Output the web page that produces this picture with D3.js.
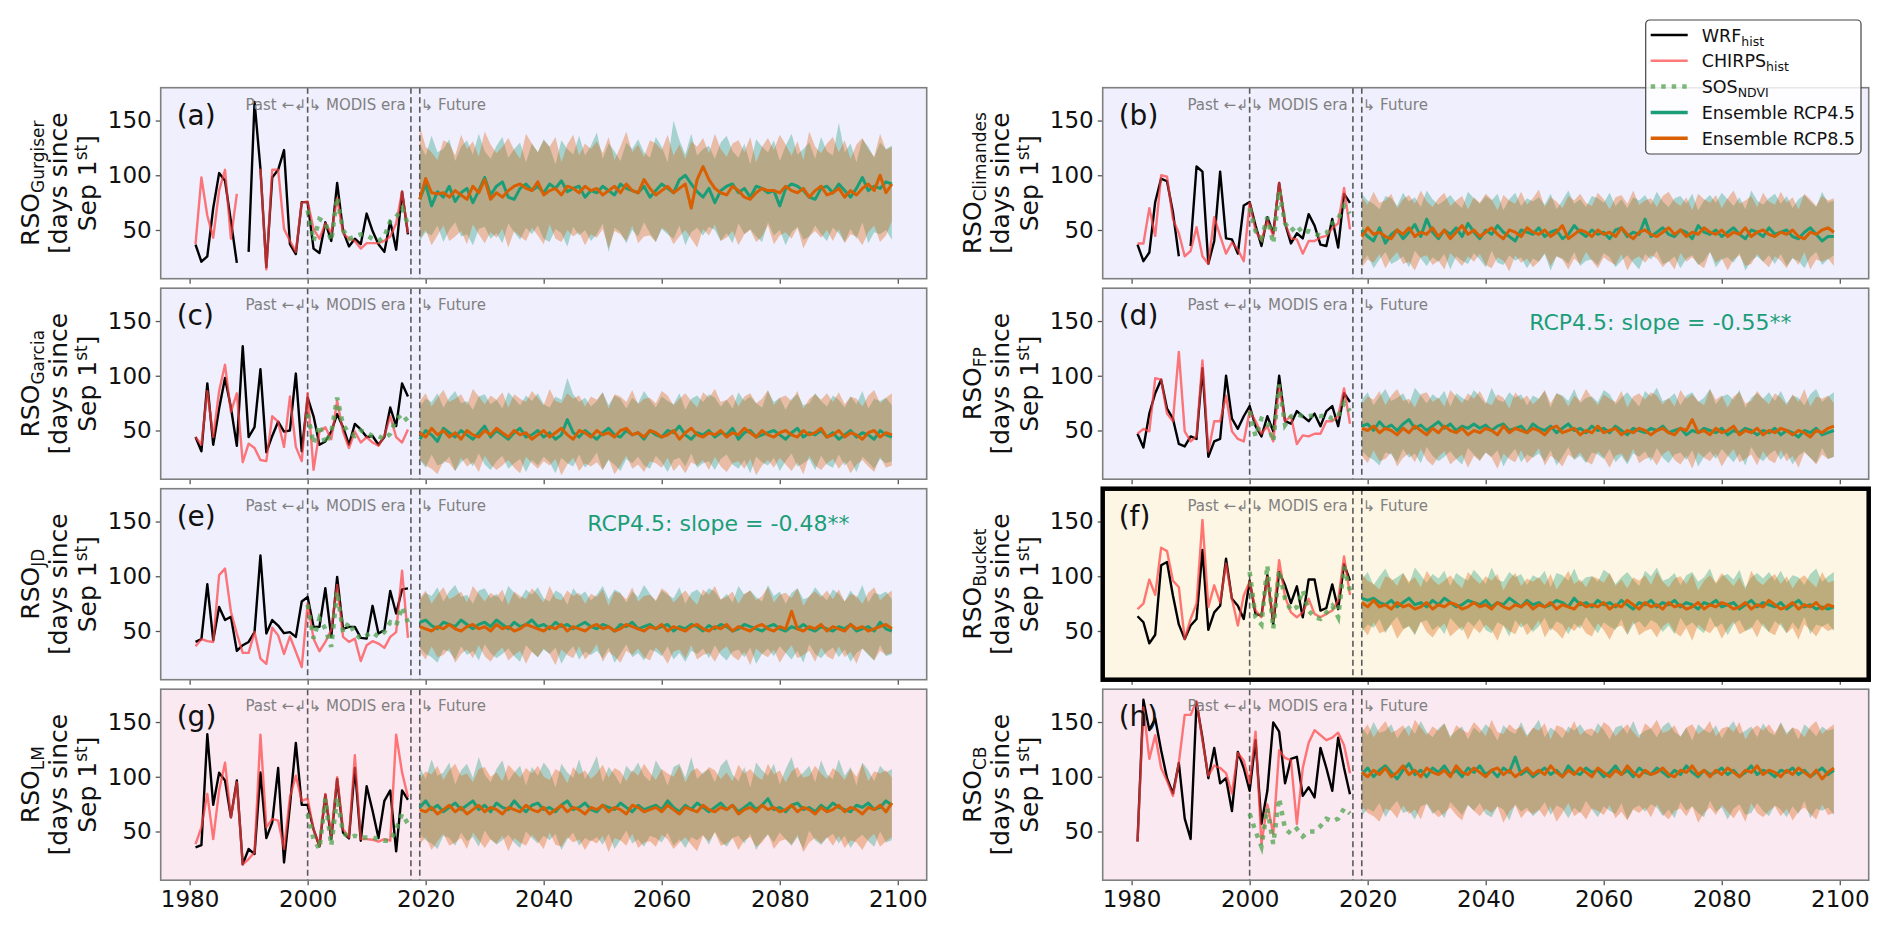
<!DOCTYPE html>
<html>
<head>
<meta charset="utf-8">
<script src="https://cdn.jsdelivr.net/npm/d3@7"></script>
<style>
  body { margin: 0; background: #fff; }
  svg { font-family: "DejaVu Sans", sans-serif; }
</style>
</head>
<body>
<div class="container"></div>
<script>
// ---- axes / categories
const xTicks = [1980, 2000, 2020, 2040, 2060, 2080, 2100];
const yTicks = [50, 100, 150];
const histYears = d3.range(1981, 2018);
const sosYears = d3.range(2000, 2018);
const futureYears = d3.range(2019, 2100);
const eraLines = [2000, 2017.5, 2019];

// ---- (a) Gurgiser
const wrfA = [36.6,21,26,70,102,95,58,20,null,30, 167,106,16,98,105,123,37,28,75.5,75.5, 33,29,57,40,93,49,35,42,37,65, 49,37,30,58,32,85,46];
const chirpsA = [37,98,63,43,86,105,42,83,null,null, null,106,14,105,105,51,40,30,75,76, 51,42,56,47,79,47,42,40,33,38, 38,38,40,44,56,85,47];
const sosA = [68,40,60,57,40,80,50,42,44,46,45,42,40,44,58,62,70,55];
const rcp45A = [78,92,72,85,80,90,76,84,88,75, 86,98,82,90,94,80,78,88,92,86, 90,84,92,88,95,85,88,90,80,86, 84,90,86,82,92,88,86,84,90,80, 86,92,88,84,96,100,92,85,80,88, 75,86,90,92,84,88,80,90,88,84, 86,72,88,92,90,86,80,78,88,90, 84,92,86,80,88,98,86,90,88,94, 92];
const rcp85A = [78,97,84,83,84,80,86,82,78,90, 84,96,78,84,80,86,90,92,88,86, 94,82,86,88,82,90,88,84,90,86, 88,82,86,90,84,92,86,84,96,88, 82,86,90,84,88,92,70,96,108,96, 88,84,82,90,86,80,78,84,88,86, 86,84,90,86,84,88,80,86,90,82, 84,88,80,86,82,88,92,86,100,84, 92];
const rcp45HiA = [129,118,136,121,124,133,113,126,132,119, 138,122,115,127,135,116,124,130,112,129, 121,133,126,110,132,124,119,136,118,127, 139,115,129,122,113,130,124,133,121,116, 135,126,112,150,132,119,138,118,124,127, 115,130,136,122,116,129,110,133,126,121, 132,113,127,138,119,124,130,115,135,122, 118,148,121,129,112,133,126,116,130,124, 127];
const rcp45LoA = [40,48,45,54,39,50,57,44,46,36, 51,53,42,47,38,56,48,41,52,46, 54,42,39,51,47,35,53,45,50,40, 46,56,30,52,48,38,50,44,57,47, 39,51,46,42,54,36,48,52,45,53, 50,40,47,38,56,46,51,44,39,57, 45,50,36,48,53,41,44,54,46,40, 52,47,39,51,42,57,38,48,46,50, 41];
const rcp85HiA = [145,126,121,114,132,129,118,137,124,131, 117,140,128,120,126,134,123,115,138,129, 121,132,126,135,112,128,137,118,129,124, 131,120,135,114,126,140,121,128,117,132, 129,123,137,118,128,115,131,126,134,120, 138,124,117,129,132,121,135,112,126,134, 123,137,128,118,131,114,140,126,120,129, 135,121,132,115,128,134,124,117,138,123, 126];
const rcp85LoA = [42,50,36,45,54,40,44,49,37,55, 46,38,48,43,51,34,49,44,40,52, 45,37,55,42,39,50,44,48,36,46, 43,51,33,49,46,40,54,38,44,45, 39,52,48,37,44,50,42,34,51,45, 55,40,43,49,36,46,50,39,44,54, 37,45,48,42,52,33,44,49,43,50, 40,51,38,46,44,36,48,54,39,45, 58];

// ---- (b) Climandes
const wrfB = [36.7,21.5,29.4,75.6,97,94.5,66.3,26,null,35.4, 108,103.3,19.2,40,103.3,42.3,41.4,28.4,72.4,75.6, 54,35.4,61.7,47,93,56,37.7,47,42.3,64.5, 54,36.7,35.4,60,34,83,74.7];
const chirpsB = [37.7,37.7,70,44.6,100,98.7,59.9,47,26,30.8, 52.5,26,19,61.7,44.6,28.4,38.6,32,21.5,74.7, 49.2,40,58.5,44.6,93,56,42.3,41.4,28.4,40, 40,43.2,44.6,51.5,56,88.5,50.6];
const sosB = [70,49,42.3,61.7,37.7,86,56,49,54,47,49,47,44.6,47,56,60,72,65];
const rcp45B = [50,44,40,52,38,46,50,42,48,55, 44,60,48,42,50,46,52,44,56,48, 42,50,46,54,48,44,40,50,48,46, 52,44,48,50,42,46,54,48,44,50, 46,48,42,50,52,44,48,46,60,44, 48,52,46,44,50,48,42,54,48,46, 50,44,48,52,46,42,50,48,44,52, 46,48,50,44,42,48,52,46,40,44, 44];
const rcp85B = [44,52,46,48,44,42,50,46,52,44, 48,46,52,44,50,42,48,54,46,50, 44,48,52,46,42,50,48,44,52,48, 46,50,44,48,54,42,46,50,48,44, 50,46,48,44,52,46,42,48,50,46, 44,48,52,46,50,44,48,46,52,48, 46,50,44,48,46,52,44,48,50,46, 44,48,46,50,44,42,48,46,50,52, 48];
const rcp45HiB = [83,77,74,69,81,79,72,84,76,80, 71,86,78,73,77,82,75,70,85,79, 74,81,77,83,68,78,84,72,79,76, 80,73,83,69,77,86,74,78,71,81, 79,75,84,72,78,70,80,77,82,73, 85,76,71,79,81,74,83,68,77,82, 75,84,78,72,80,69,86,77,73,79, 83,74,81,70,78,82,76,71,85,75, 77];
const rcp45LoB = [20,27,15,23,30,19,22,26,16,31, 24,17,25,21,28,14,26,22,19,29, 23,16,31,20,18,27,22,25,15,24, 21,28,13,26,24,19,30,17,22,23, 18,29,25,16,22,27,20,14,28,23, 31,19,21,26,15,24,27,18,22,30, 16,23,25,20,29,13,22,26,21,27, 19,28,17,24,22,15,25,30,18,23, 27];
const rcp85HiB = [80,73,85,75,77,83,70,78,82,74, 86,76,71,79,84,72,77,81,69,80, 75,83,78,68,82,77,74,85,73,79, 87,71,80,76,70,81,77,83,75,72, 84,78,69,80,82,74,86,73,77,79, 71,81,85,76,72,80,68,83,78,75, 82,70,79,86,74,77,81,71,84,76, 73,85,75,80,69,83,78,72,81,77, 79];
const rcp85LoB = [16,23,20,28,15,24,30,19,21,13, 25,27,18,22,14,29,23,17,26,21, 28,18,15,25,22,12,27,20,24,16, 21,29,17,26,23,14,24,19,30,22, 15,25,21,18,28,13,23,26,20,27, 24,16,22,14,29,21,25,19,15,30, 20,24,13,23,27,17,19,28,21,16, 26,22,15,25,18,30,14,23,21,24, 17];

// ---- (c) Garcia
const wrfC = [44,31,93,37,70,98,71,36,127,44, 53,106,30,45,58,49,50,102,31,80, 63,37,40,49,65,53,37,56,51,44, 45,37,44,71,54,93,81];
const chirpsC = [44,37,86,44,86,110,67,84,21,38, 34,23,22,63,58,35,81,35,22,84, 14,49,53,42,77,49,34,49,39,44, 39,36,45,63,44,39,51];
const sosC = [65,38,55,38,48,80,55,48,45,50,48,45,45,42,47,60,65,58];
const rcp45C = [42,50,46,40,52,48,44,50,46,42, 48,54,44,50,46,42,48,52,44,46, 50,44,48,42,46,60,48,44,50,46, 42,48,52,46,44,50,46,48,42,50, 46,44,50,48,54,46,42,48,46,50, 44,48,46,52,42,48,50,44,46,48, 50,46,42,48,52,44,48,46,50,44, 48,42,46,50,44,48,46,42,50,46, 44];
const rcp85C = [48,44,52,46,50,44,48,42,50,46, 44,50,46,52,48,44,50,46,48,42, 46,50,44,48,52,46,42,50,48,44, 50,46,48,44,50,52,46,48,44,50, 48,44,46,50,42,48,52,46,44,48, 46,50,44,48,46,52,48,44,50,46, 44,48,50,46,44,50,46,48,52,44, 46,50,44,48,46,42,48,50,44,48, 46];
const rcp45HiC = [72,79,76,84,71,80,86,75,77,69, 81,83,74,78,70,85,79,73,82,77, 84,74,71,81,78,98,83,76,80,72, 77,85,73,82,79,70,80,75,86,78, 71,81,77,74,84,69,79,82,76,83, 80,72,78,70,85,77,81,75,71,86, 76,80,69,79,83,73,75,84,77,72, 82,78,71,81,74,86,70,79,77,80, 73];
const rcp45LoC = [23,16,28,18,20,26,13,21,25,17, 29,19,14,22,27,15,20,24,12,23, 18,26,21,11,25,20,17,28,16,22, 30,14,23,19,13,24,20,26,18,15, 27,21,12,23,25,17,29,16,20,22, 14,24,28,19,15,23,11,26,21,18, 25,13,22,29,17,20,24,14,27,19, 16,28,18,23,12,26,21,15,24,20, 22];
const rcp85HiC = [77,84,72,80,87,76,79,83,73,88, 81,74,82,78,85,71,83,79,76,86, 80,73,88,77,75,84,79,82,72,81, 78,85,70,83,81,76,87,74,79,80, 75,86,82,73,79,84,77,71,85,80, 88,76,78,83,72,81,84,75,79,87, 73,80,82,77,86,70,79,83,78,84, 76,85,74,81,79,72,82,87,75,80, 84];
const rcp85LoC = [24,18,15,10,22,20,13,25,17,21, 12,27,19,14,18,23,16,11,26,20, 15,22,18,24,9,19,25,13,20,17, 21,14,24,10,18,27,15,19,12,22, 20,16,25,13,19,11,21,18,23,14, 26,17,12,20,22,15,24,9,18,23, 16,25,19,13,21,10,27,18,14,20, 24,15,22,11,19,23,17,12,26,16, 18];

// ---- (d) FP
const wrfD = [47,34.4,65.4,84,96.4,70,60.8,37.7,35.4,44.6, 42.3,107,26,40,42.3,100,60.8,51.5,63,72.3, 53.9,44.6,63,49.2,100,58.5,56.2,67.7,63,58.5, 65.4,53.9,67.7,72.3,53.9,84,76];
const chirpsD = [47,51.5,49.2,97.8,96.4,65.4,58.5,121.8,49.2,40, 44.6,114,30.7,58.5,58.5,81.6,49.2,42.3,40,67.7, 58.5,47,53.9,40,90.8,58.5,63,37.7,45.5,44.6, 47,47,58.5,58.5,63,88.5,56.2];
const sosD = [67.7,44.6,60.8,58.5,40,92,55,63,65,63,63,64,63,64,60.8,63,75,67.7];
const rcp45D = [54,56,50,58,52,55,50,56,60,52, 55,50,54,58,52,56,50,54,52,56, 52,55,50,54,56,50,52,54,48,56, 52,50,54,48,52,56,50,52,48,54, 50,52,48,54,50,46,52,50,48,52, 50,54,48,50,52,46,50,48,52,50, 48,52,46,50,48,52,50,46,50,48, 52,46,50,48,44,50,48,52,46,48, 50];
const rcp85D = [52,50,54,48,52,50,46,52,48,54, 50,46,52,48,54,50,48,52,46,50, 48,52,50,46,54,48,52,50,48,52, 50,46,52,54,48,50,52,46,50,48, 54,48,50,52,46,50,48,52,50,46, 50,52,48,46,52,50,60,48,50,46, 52,48,50,54,46,50,48,52,46,50, 48,52,50,46,50,48,44,50,48,52, 54];
const rcp45HiD = [78,85,73,81,88,77,80,84,74,89, 82,75,83,79,86,72,84,80,77,87, 81,74,89,78,76,85,80,83,73,82, 79,86,71,84,82,77,88,75,80,81, 76,87,83,74,80,85,78,72,86,81, 89,77,79,84,73,82,85,76,80,88, 74,81,83,78,87,71,80,84,79,85, 77,86,75,82,80,73,83,88,76,81, 85];
const rcp45LoD = [32,26,23,18,30,28,21,33,25,29, 20,35,27,22,26,31,24,19,34,28, 23,30,26,32,17,27,33,21,28,25, 29,22,32,18,26,35,23,27,20,30, 28,24,33,21,27,19,29,26,31,22, 34,25,20,28,30,23,32,17,26,31, 24,33,27,21,29,18,35,26,22,28, 32,23,30,19,27,31,25,20,34,24, 26];
const rcp85HiD = [74,81,78,86,73,82,88,77,79,71, 83,85,76,80,72,87,81,75,84,79, 86,76,73,83,80,70,85,78,82,74, 79,87,75,84,81,72,82,77,88,80, 73,83,79,76,86,71,81,84,78,85, 82,74,80,72,87,79,83,77,73,88, 78,82,71,81,85,75,77,86,79,74, 84,80,73,83,76,88,72,81,79,82, 75];
const rcp85LoD = [27,20,32,22,24,30,17,25,29,21, 33,23,18,26,31,19,24,28,16,27, 22,30,25,15,29,24,21,32,20,26, 34,18,27,23,17,28,24,30,22,19, 31,25,16,27,29,21,33,20,24,26, 18,28,32,23,19,27,15,30,25,22, 29,17,26,33,21,24,28,18,31,23, 20,32,22,27,16,30,25,19,28,24, 26];

// ---- (e) JD
const wrfE = [40,42.5,92.7,41.6,72,60,63,31.8,37,40, 49,119,47.7,60,55,48,49,44.6,77,81, 53.8,53.8,89,44.6,99.4,52,53.8,53.8,43.7,43, 73,47.7,50.8,86.5,66,88,89];
const chirpsE = [36,42.5,40.7,40,101,107,67.6,47.7,30,30, 49,24.8,20,53,46,29,45,31,17,75, 43,31.5,40,50.8,92,44.6,40,43,22.6,37, 40.7,38.5,34.6,44.6,49,105,43.7];
const sosE = [74,43,61.5,52,35.5,86,49,58,47.7,43,46,49,44.6,49,58,55,72,58];
const rcp45E = [58,60,55,52,58,56,54,60,56,52, 56,58,54,60,56,52,58,54,56,60, 54,56,52,58,54,56,52,55,58,54, 52,56,54,50,56,54,58,52,54,56, 52,54,56,50,54,52,56,54,50,55, 52,56,54,50,52,56,54,52,50,54, 56,52,50,54,52,56,52,50,54,52, 50,54,52,56,50,52,54,50,58,52, 50];
const rcp85E = [54,52,50,54,52,56,52,50,54,56, 52,54,50,56,52,54,50,52,56,54, 52,50,54,52,56,50,54,52,50,54, 56,52,54,50,52,56,54,52,50,54, 52,56,50,54,52,50,54,56,52,50, 54,52,56,50,54,52,50,54,56,52, 50,54,52,68,52,50,54,52,56,50, 54,52,50,56,52,54,50,52,54,56, 52];
const rcp45HiE = [78,85,82,90,77,86,92,81,83,75, 87,89,80,84,76,91,85,79,88,83, 90,80,77,87,84,74,89,82,86,78, 83,91,79,88,85,76,86,81,92,84, 77,87,83,80,90,75,85,88,82,89, 86,78,84,76,91,83,87,81,77,92, 82,86,75,85,89,79,81,90,83,78, 88,84,77,87,80,92,76,85,83,86, 79];
const rcp45LoE = [35,29,26,21,33,31,24,36,28,32, 23,38,30,25,29,34,27,22,37,31, 26,33,29,35,20,30,36,24,31,28, 32,25,35,21,29,38,26,30,23,33, 31,27,36,24,30,22,32,29,34,25, 37,28,23,31,33,26,35,20,29,34, 27,36,30,24,32,21,38,29,25,31, 35,26,33,22,30,34,28,23,37,27, 29];
const rcp85HiE = [80,87,75,83,90,79,82,86,76,91, 84,77,85,81,88,74,86,82,79,89, 83,76,91,80,78,87,82,85,75,84, 81,88,73,86,84,79,90,77,82,83, 78,89,85,76,82,87,80,74,88,83, 91,79,81,86,75,84,87,78,82,90, 76,83,85,80,89,73,82,86,81,87, 79,88,77,84,82,75,85,90,78,83, 87];
const rcp85LoE = [31,24,36,26,28,34,21,29,33,25, 37,27,22,30,35,23,28,32,20,31, 26,34,29,19,33,28,25,36,24,30, 38,22,31,27,21,32,28,34,26,23, 35,29,20,31,33,25,37,24,28,30, 22,32,36,27,23,31,19,34,29,26, 33,21,30,37,25,28,32,22,35,27, 24,36,26,31,20,34,29,23,32,28, 30];

// ---- (f) Bucket
const wrfF = [63.5,58,38.7,46.6,110,113,82.5,56,42.6,55, 61,124,51,67,73,116,79.4,73,61,96, 65.6,64,101,56.4,104,91.7,75.5,90.8,62.6,97, 97,68.7,71,92.6,70,111,96];
const chirpsF = [70,75,97,83,126,123,96,90,42.6,61, 75,151.5,72,91.7,76,111.6,79.4,55,82.5,95, 68.7,62.6,99.4,59.5,114.7,81,67,62.6,67,79.4, 65.6,62.6,65.6,68.7,78,118,83];
const sosF = [104,62.6,56,110,52,105.5,79.4,68.7,71.8,87,68.7,62.6,61,67,73,62.6,108.6,87];
const rcp45F = [80,78,80,76,74,78,72,76,80,74, 76,72,78,74,80,76,72,74,78,76, 74,78,72,76,74,80,76,72,78,74, 76,72,74,78,76,72,80,74,76,72, 78,74,76,72,78,74,70,76,74,78, 72,76,74,78,72,76,74,70,76,74, 78,72,74,76,70,74,78,72,76,74, 72,76,70,74,78,72,74,70,72,70, 72];
const rcp85F = [76,72,78,72,74,70,76,72,74,70, 72,76,70,74,72,76,74,70,72,76, 72,74,70,76,72,70,74,72,76,70, 74,72,76,70,74,72,70,76,72,74, 72,76,70,74,72,78,74,70,76,72, 74,70,76,72,74,70,72,76,70,74, 72,76,74,70,72,76,70,74,72,78, 74,70,72,76,70,74,72,76,70,74, 72];
const rcp45HiF = [97,104,92,100,107,96,99,103,93,108, 101,94,102,98,105,91,103,99,96,106, 100,93,108,97,95,104,99,102,92,101, 98,105,90,103,101,96,107,94,99,100, 95,106,102,93,99,104,97,91,105,100, 108,96,98,103,92,101,104,95,99,107, 93,100,102,97,106,90,99,103,98,104, 96,105,94,101,99,92,102,107,95,100, 104];
const rcp45LoF = [49,56,53,61,48,57,63,52,54,46, 58,60,51,55,47,62,56,50,59,54, 61,51,48,58,55,45,60,53,57,49, 54,62,50,59,56,47,57,52,63,55, 48,58,54,51,61,46,56,59,53,60, 57,49,55,47,62,54,58,52,48,63, 53,57,46,56,60,50,52,61,54,49, 59,55,48,58,51,63,47,56,54,57, 50];
const rcp85HiF = [102,96,93,88,100,98,91,103,95,99, 90,105,97,92,96,101,94,89,104,98, 93,100,96,102,87,97,103,91,98,95, 99,92,102,88,96,105,93,97,90,100, 98,94,103,91,97,89,99,96,101,92, 104,95,90,98,100,93,102,87,96,101, 94,103,97,91,99,88,105,96,92,98, 102,93,100,89,97,101,95,90,104,94, 96];
const rcp85LoF = [53,46,58,48,50,56,43,51,55,47, 59,49,44,52,57,45,50,54,42,53, 48,56,51,41,55,50,47,58,46,52, 60,44,53,49,43,54,50,56,48,45, 57,51,42,53,55,47,59,46,50,52, 44,54,58,49,45,53,41,56,51,48, 55,43,52,59,47,50,54,44,57,49, 46,58,48,53,42,56,51,45,54,50, 52];

// ---- (g) LM
const wrfG = [35.5,37.6,138.8,74.3,103.7,96.6,63,96.6,20,34, 29.4,104,44,58.4,108,21.7,73.7,131,74.3,74.3, 52,36.4,83.5,43,98,49,43.7,108,41.6,91.4, 69,44,78,87.5,31.8,87.5,79];
const chirpsG = [38.5,53.8,84.4,43,87.5,112.8,63,95,20,24.8, 31,138.5,53.8,61.5,60,34,81.3,101,78,80, 52,37,84.4,46,99.7,52,44.6,119.6,43,43, 42.5,40.7,43,41.6,138.5,104,81.3];
const sosG = [66,43,34,80,37,81,49,44.6,46,44.6,44.6,44.6,43,41.6,41.6,52,66,57];
const rcp45G = [72,78,70,74,68,72,76,70,74,78, 70,74,68,76,72,70,78,72,68,74, 76,70,72,68,74,78,70,72,76,70, 68,74,72,70,76,72,68,74,70,72, 74,70,78,72,68,74,70,76,72,68, 72,76,70,74,68,72,76,70,74,80, 70,72,68,74,76,70,72,68,74,70, 76,72,70,68,74,72,76,70,72,78, 74];
const rcp85G = [70,68,72,66,70,74,68,72,66,70, 74,68,72,70,66,72,70,68,74,70, 68,72,66,70,74,68,72,70,66,72, 70,74,68,72,70,66,74,72,68,70, 72,68,74,70,66,72,70,68,74,70, 68,72,70,74,66,70,72,68,74,70, 72,68,70,74,68,72,70,66,72,68, 70,74,68,72,70,66,72,70,74,68, 76];
const rcp45HiG = [109,98,116,101,104,113,93,106,112,99, 118,102,95,107,115,96,104,110,92,109, 101,113,106,90,112,104,99,116,98,107, 119,95,109,102,93,110,104,113,101,96, 115,106,92,109,112,99,118,98,104,107, 95,110,116,102,96,109,90,113,106,101, 112,93,107,118,99,104,110,95,115,102, 98,116,101,109,92,113,106,96,110,104, 107];
const rcp45LoG = [48,42,39,34,46,44,37,49,41,45, 36,51,43,38,42,47,40,35,50,44, 39,46,42,48,33,43,49,37,44,41, 45,38,48,34,42,51,39,43,36,46, 44,40,49,37,43,35,45,42,47,38, 50,41,36,44,46,39,48,33,42,47, 40,49,43,37,45,34,51,42,38,44, 48,39,46,35,43,47,41,36,50,40, 42];
const rcp85HiG = [98,105,102,110,97,106,112,101,103,95, 107,109,100,104,96,111,105,99,108,103, 110,100,97,107,104,94,109,102,106,98, 103,111,99,108,105,96,106,101,112,104, 97,107,103,100,110,95,105,108,102,109, 106,98,104,96,111,103,107,101,97,112, 102,106,95,105,109,99,101,110,103,98, 108,104,97,107,100,112,96,105,103,106, 99];
const rcp85LoG = [38,45,33,41,48,37,40,44,34,49, 42,35,43,39,46,32,44,40,37,47, 41,34,49,38,36,45,40,43,33,42, 39,46,31,44,42,37,48,35,40,41, 36,47,43,34,40,45,38,32,46,41, 49,37,39,44,33,42,45,36,40,48, 34,41,43,38,47,31,40,44,39,45, 37,46,35,42,40,33,43,48,36,41, 45];

// ---- (h) CB
const wrfH = [40.9,170.4,142.6,153.3,124.2,98.7,84.8,112.6,61.7,43.2, 168,135.7,98.7,126.4,94,98.7,68.7,122.7,108,87.2, 133.4,57,87.2,149.6,141.2,94,116.3,118.2,82.5,90.4, 81.1,126.4,108,87.2,135.7,108,84];
const chirpsH = [40.9,163.4,116.3,138,108,96.4,82.5,112.6,156.5,156.5, 169,133.4,101,110.3,108,103.3,84.8,121.8,114.9,94, 141.2,38.6,74.7,47.8,124.2,117.2,114.9,57,108,131, 142.6,138,133.4,135.7,140.3,128.8,103.3];
const sosH = [66.3,50,36.3,71,38.6,80.2,52.5,47.8,52.5,45.5,50,50,54.8,61.7,59.4,61.7,71,66.3];
const rcp45H = [102,108,100,106,110,104,98,106,112,102, 106,100,108,104,110,102,106,100,108,104, 110,102,106,100,108,104,118,102,106,100, 104,108,102,106,100,110,104,102,108,104, 106,100,104,110,102,106,100,108,104,102, 108,104,100,106,102,110,104,100,106,102, 104,108,102,106,100,104,110,102,106,104, 100,106,104,108,102,106,100,104,108,102, 106];
const rcp85H = [104,100,106,102,108,100,104,110,102,106, 100,108,104,102,106,100,110,104,102,108, 104,100,106,108,102,106,100,104,108,102, 106,102,110,104,100,106,102,108,104,100, 108,104,100,106,102,110,104,100,106,102, 104,108,102,100,106,104,110,102,106,100, 106,102,108,104,100,106,104,110,102,106, 104,100,106,102,108,104,100,106,98,104, 108];
const rcp45HiH = [145,138,150,140,142,148,135,143,147,139, 151,141,136,144,149,137,142,146,134,145, 140,148,143,133,147,142,139,150,138,144, 152,136,145,141,135,146,142,148,140,137, 149,143,134,145,147,139,151,138,142,144, 136,146,150,141,137,145,133,148,143,140, 147,135,144,151,139,142,146,136,149,141, 138,150,140,145,134,148,143,137,146,142, 144];
const rcp45LoH = [64,71,68,76,63,72,78,67,69,61, 73,75,66,70,62,77,71,65,74,69, 76,66,63,73,70,60,75,68,72,64, 69,77,65,74,71,62,72,67,78,70, 63,73,69,66,76,61,71,74,68,75, 72,64,70,62,77,69,73,67,63,78, 68,72,61,71,75,65,67,76,69,64, 74,70,63,73,66,78,62,71,69,72, 65];
const rcp85HiH = [141,148,136,144,151,140,143,147,137,152, 145,138,146,142,149,135,147,143,140,150, 144,137,152,141,139,148,143,146,136,145, 142,149,134,147,145,140,151,138,143,144, 139,150,146,137,143,148,141,135,149,144, 152,140,142,147,136,145,148,139,143,151, 137,144,146,141,150,134,143,147,142,148, 140,149,138,145,143,136,146,151,139,144, 148];
const rcp85LoH = [73,67,64,59,71,69,62,74,66,70, 61,76,68,63,67,72,65,60,75,69, 64,71,67,73,58,68,74,62,69,66, 70,63,73,59,67,76,64,68,61,71, 69,65,74,62,68,60,70,67,72,63, 75,66,61,69,71,64,73,58,67,72, 65,74,68,62,70,59,76,67,63,69, 73,64,71,60,68,72,66,61,75,65, 67];

// ---- panel table (built from the arrays above)
const panels = [
  {tag: "(a)", name: "Gurgiser",  wrf: wrfA, chirps: chirpsA, sos: sosA, m45: rcp45A, m85: rcp85A, lo45: rcp45LoA, hi45: rcp45HiA, lo85: rcp85LoA, hi85: rcp85HiA, bg: "#f0effd"},
  {tag: "(b)", name: "Climandes", wrf: wrfB, chirps: chirpsB, sos: sosB, m45: rcp45B, m85: rcp85B, lo45: rcp45LoB, hi45: rcp45HiB, lo85: rcp85LoB, hi85: rcp85HiB, bg: "#f0effd"},
  {tag: "(c)", name: "Garcia",    wrf: wrfC, chirps: chirpsC, sos: sosC, m45: rcp45C, m85: rcp85C, lo45: rcp45LoC, hi45: rcp45HiC, lo85: rcp85LoC, hi85: rcp85HiC, bg: "#f0effd"},
  {tag: "(d)", name: "FP",        wrf: wrfD, chirps: chirpsD, sos: sosD, m45: rcp45D, m85: rcp85D, lo45: rcp45LoD, hi45: rcp45HiD, lo85: rcp85LoD, hi85: rcp85HiD, bg: "#f0effd", slope: "RCP4.5: slope = -0.55**"},
  {tag: "(e)", name: "JD",        wrf: wrfE, chirps: chirpsE, sos: sosE, m45: rcp45E, m85: rcp85E, lo45: rcp45LoE, hi45: rcp45HiE, lo85: rcp85LoE, hi85: rcp85HiE, bg: "#f0effd", slope: "RCP4.5: slope = -0.48**"},
  {tag: "(f)", name: "Bucket",    wrf: wrfF, chirps: chirpsF, sos: sosF, m45: rcp45F, m85: rcp85F, lo45: rcp45LoF, hi45: rcp45HiF, lo85: rcp85LoF, hi85: rcp85HiF, bg: "#fdf6e4", bold: true},
  {tag: "(g)", name: "LM",        wrf: wrfG, chirps: chirpsG, sos: sosG, m45: rcp45G, m85: rcp85G, lo45: rcp45LoG, hi45: rcp45HiG, lo85: rcp85LoG, hi85: rcp85HiG, bg: "#fbe9f2"},
  {tag: "(h)", name: "CB",        wrf: wrfH, chirps: chirpsH, sos: sosH, m45: rcp45H, m85: rcp85H, lo45: rcp45LoH, hi45: rcp45HiH, lo85: rcp85LoH, hi85: rcp85HiH, bg: "#fbe9f2"}
];

const col45 = "#1b9e77", col85 = "#d95f02";
const colWrf = "#000", colChirps = "#ff4040", colSos = "#4fa34f";

const width = 1892, height = 926;
const colX = [160.7, 1102.7];
const pw = 766, ph = 191;
const rowY = r => 87.7 + r * 200.5;

const svg = d3.select(".container")
              .append("svg")
              .attr("width", width)
              .attr("height", height);

const xScale = d3.scaleLinear().domain([1975.1, 2104.9]).range([0, pw]);
const yScale = d3.scaleLinear().domain([5.5, 180]).range([ph, 0]);

function seriesLine(years) {
    return d3.line()
             .defined(d => d != null)
             .x((d, i) => xScale(years[i]))
             .y(d => yScale(d));
}
function band(lo, hi) {
    return d3.area()
             .x(d => xScale(d))
             .y0((d, i) => yScale(lo[i]))
             .y1((d, i) => yScale(hi[i]));
}

panels.forEach((p, k) => {
    const col = k % 2, row = Math.floor(k / 2);
    const x0 = colX[col], y0 = rowY(row);
    const g = svg.append("g").attr("transform", `translate(${x0},${y0})`);

    g.append("rect")
     .attr("width", pw).attr("height", ph)
     .attr("fill", p.bg);

    // ensemble spread
    g.append("path").datum(futureYears)
     .attr("d", band(p.lo45, p.hi45))
     .attr("fill", col45).attr("fill-opacity", 0.35);
    g.append("path").datum(futureYears)
     .attr("d", band(p.lo85, p.hi85))
     .attr("fill", col85).attr("fill-opacity", 0.35);

    // era lines
    eraLines.forEach(yr => {
        g.append("line")
         .attr("x1", xScale(yr)).attr("x2", xScale(yr))
         .attr("y1", 0).attr("y2", ph)
         .attr("stroke", "#5a5a5a").attr("stroke-width", 1.6)
         .attr("stroke-dasharray", "6,3.5");
    });

    // historical series
    g.append("path").datum(p.wrf)
     .attr("d", seriesLine(histYears))
     .attr("fill", "none").attr("stroke", colWrf)
     .attr("stroke-width", 2.4).attr("stroke-linejoin", "round");
    g.append("path").datum(p.chirps)
     .attr("d", seriesLine(histYears))
     .attr("fill", "none").attr("stroke", colChirps)
     .attr("stroke-opacity", 0.7)
     .attr("stroke-width", 2.4).attr("stroke-linejoin", "round");
    g.append("path").datum(p.sos)
     .attr("d", seriesLine(sosYears))
     .attr("fill", "none").attr("stroke", colSos)
     .attr("stroke-opacity", 0.75)
     .attr("stroke-width", 4.5)
     .attr("stroke-dasharray", "4.5,6");

    // ensemble means
    g.append("path").datum(p.m45)
     .attr("d", seriesLine(futureYears))
     .attr("fill", "none").attr("stroke", col45)
     .attr("stroke-width", 3).attr("stroke-linejoin", "round");
    g.append("path").datum(p.m85)
     .attr("d", seriesLine(futureYears))
     .attr("fill", "none").attr("stroke", col85)
     .attr("stroke-width", 3).attr("stroke-linejoin", "round");

    // annotations
    const ann = g.append("g").attr("font-size", 15).attr("fill", "#808080");
    ann.append("text").attr("x", xScale(2000) - 1).attr("y", 22)
       .attr("text-anchor", "end").text("Past \u2190\u21b2");
    ann.append("text").attr("x", xScale(2000) + 1).attr("y", 22)
       .text("\u21b3 MODIS era");
    ann.append("text").attr("x", xScale(2019) + 1).attr("y", 22)
       .text("\u21b3 Future");

    g.append("text").attr("x", 16).attr("y", 37)
     .attr("font-size", 28).attr("fill", "#111").text(p.tag);

    if (p.slope) {
        g.append("text").attr("x", pw * 0.728).attr("y", 42)
         .attr("text-anchor", "middle").attr("font-size", 22)
         .attr("fill", col45).text(p.slope);
    }

    // axes
    const yAxis = d3.axisLeft(yScale).tickValues(yTicks).tickSize(5).tickPadding(4);
    const xAxis = d3.axisBottom(xScale).tickValues(xTicks).tickSize(5).tickPadding(5)
                    .tickFormat(row === 3 ? d3.format("d") : () => "");
    const gy = g.append("g").call(yAxis);
    const gx = g.append("g").attr("transform", `translate(0,${ph})`).call(xAxis);
    [gx, gy].forEach(a => {
        a.select(".domain").remove();
        a.selectAll(".tick line").attr("stroke", "#555").attr("stroke-width", 1.3);
        a.selectAll(".tick text").attr("font-size", 23).attr("fill", "#111")
         .attr("font-family", "DejaVu Sans");
    });

    // frame
    g.append("rect")
     .attr("width", pw).attr("height", ph)
     .attr("fill", "none")
     .attr("stroke", p.bold ? "#000" : "#7f7f7f")
     .attr("stroke-width", p.bold ? 4.5 : 1.6);

    // y label, three rotated lines
    const cy = y0 + ph / 2;
    const lab = (dx) => svg.append("text")
        .attr("transform", `translate(${x0 + dx},${cy}) rotate(-90)`)
        .attr("text-anchor", "middle").attr("dy", "0.35em")
        .attr("font-size", 25).attr("fill", "#111");
    const l1 = lab(-130.7);
    l1.append("tspan").text("RSO");
    l1.append("tspan").attr("font-size", 17).attr("dy", 5).text(p.name);
    lab(-102.7).text("[days since");
    const l3 = lab(-73.7);
    l3.append("tspan").text("Sep 1");
    l3.append("tspan").attr("font-size", 17).attr("dy", -9).text("st");
    l3.append("tspan").attr("dy", 9).text("]");
});

// ---- legend
const legendItems = [
    {main: "WRF", sub: "hist", color: colWrf, w: 2.4, op: 1},
    {main: "CHIRPS", sub: "hist", color: colChirps, w: 2.4, op: 0.7},
    {main: "SOS", sub: "NDVI", color: colSos, w: 4.5, op: 0.75, dash: "4.5,6"},
    {main: "Ensemble RCP4.5", sub: "", color: col45, w: 3.5, op: 1},
    {main: "Ensemble RCP8.5", sub: "", color: col85, w: 3.5, op: 1}
];
const lg = svg.append("g").attr("transform", "translate(1645.7,20)");
lg.append("rect").attr("width", 215.3).attr("height", 134).attr("rx", 4)
  .attr("fill", "#fff").attr("fill-opacity", 0.82)
  .attr("stroke", "#444").attr("stroke-width", 1.2);
legendItems.forEach((d, i) => {
    const cy = 15 + i * 25.8;
    lg.append("line").attr("x1", 5).attr("x2", 42).attr("y1", cy).attr("y2", cy)
      .attr("stroke", d.color).attr("stroke-width", d.w).attr("stroke-opacity", d.op)
      .attr("stroke-dasharray", d.dash || null);
    const t = lg.append("text").attr("x", 56).attr("y", cy + 6.5)
                .attr("font-size", 17.5).attr("fill", "#111");
    t.append("tspan").text(d.main);
    if (d.sub) t.append("tspan").attr("font-size", 12.5).attr("dy", 4).text(d.sub);
});
</script>
</body>
</html>
